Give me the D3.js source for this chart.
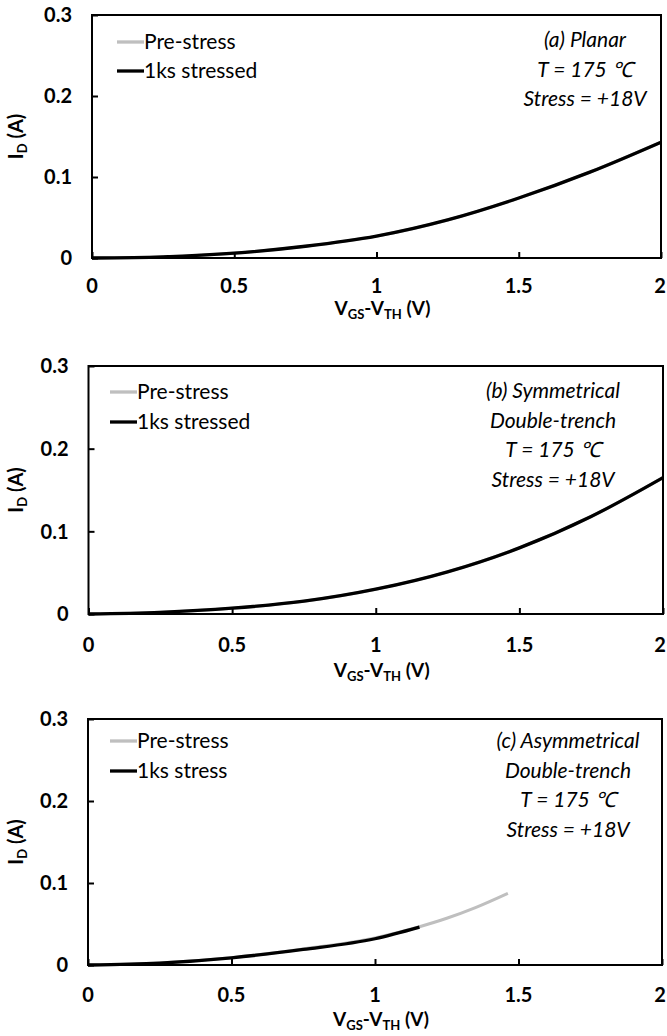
<!DOCTYPE html>
<html>
<head>
<meta charset="utf-8">
<script src="https://cdn.jsdelivr.net/npm/d3@7"></script>
<style>
  html, body { margin: 0; padding: 0; background: #fff; }
  svg { display: block; }
  text { font-family: Lato, "Open Sans", sans-serif; fill: #000; }
</style>
</head>
<body>
<svg id="chart" width="667" height="1036"></svg>
<script>
// ---------- data ----------
const xTickValues = [0, 0.5, 1, 1.5, 2];
const xTickLabels = ["0", "0.5", "1", "1.5", "2"];
const yTickValues = [0, 0.1, 0.2, 0.3];
const yTickLabels = ["0", "0.1", "0.2", "0.3"];

// (a) Planar
const vgsA = [0, 0.25, 0.5, 0.75, 1, 1.25, 1.5, 1.75, 2];
const idPreA = [0, 0.0015, 0.006, 0.0145, 0.027, 0.047, 0.074, 0.106, 0.143];
const idPostA = [0, 0.0015, 0.006, 0.0145, 0.027, 0.047, 0.074, 0.106, 0.143];

// (b) Symmetrical double-trench
const vgsB = [0, 0.25, 0.5, 0.75, 1, 1.25, 1.5, 1.75, 2];
const idPreB = [0, 0.002, 0.007, 0.0155, 0.030, 0.051, 0.080, 0.118, 0.165];
const idPostB = [0, 0.002, 0.007, 0.0155, 0.030, 0.051, 0.080, 0.118, 0.165];

// (c) Asymmetrical double-trench
const vgsCPre = [0, 0.25, 0.5, 0.75, 1, 1.155, 1.25, 1.35, 1.463];
const idCPre = [0, 0.0025, 0.009, 0.0195, 0.033, 0.0467, 0.057, 0.070, 0.0874];
const vgsCPost = [0, 0.25, 0.5, 0.75, 1, 1.155];
const idCPost = [0, 0.0024, 0.0088, 0.019, 0.032, 0.0462];

const legendA = ["Pre-stress", "1ks stressed"];
const legendB = ["Pre-stress", "1ks stressed"];
const legendC = ["Pre-stress", "1ks stress"];

const noteA = ["(a) Planar", "T = 175 \u2103", "Stress = +18V"];
const noteB = ["(b) Symmetrical", "Double-trench", "T = 175 \u2103", "Stress = +18V"];
const noteC = ["(c) Asymmetrical", "Double-trench", "T = 175 \u2103", "Stress = +18V"];

// ---------- layout ----------
const panels = [
  { box: {l: 92, r: 661, t: 15, b: 258}, tickDy: 35, titleDy: 57,
    pre: {x: vgsA, y: idPreA}, post: {x: vgsA, y: idPostA},
    legend: legendA, legX: 117, legY: [42, 71],
    note: noteA, noteX: 585, noteY: 47 },
  { box: {l: 88.5, r: 663, t: 366, b: 614}, tickDy: 38, titleDy: 63,
    pre: {x: vgsB, y: idPreB}, post: {x: vgsB, y: idPostB},
    legend: legendB, legX: 110, legY: [392, 422],
    note: noteB, noteX: 553, noteY: 398 },
  { box: {l: 88, r: 662, t: 719, b: 965}, tickDy: 37, titleDy: 61,
    pre: {x: vgsCPre, y: idCPre}, post: {x: vgsCPost, y: idCPost},
    legend: legendC, legX: 110, legY: [741, 771],
    note: noteC, noteX: 568, noteY: 748 }
];

const svg = d3.select("#chart");
const preColor = "#bfbfbf";
const postColor = "#000";

panels.forEach(p => {
  const {l, r, t, b} = p.box;
  const x = d3.scaleLinear().domain([0, 2]).range([l, r]);
  const y = d3.scaleLinear().domain([0, 0.3]).range([b, t]);
  const g = svg.append("g");

  // curves
  const line = d3.line().x(d => x(d[0])).y(d => y(d[1])).curve(d3.curveMonotoneX);
  const preData = p.pre.x.map((v, i) => [v, p.pre.y[i]]);
  const postData = p.post.x.map((v, i) => [v, p.post.y[i]]);
  g.append("path").datum(preData).attr("d", line)
    .attr("fill", "none").attr("stroke", preColor).attr("stroke-width", 3);
  g.append("path").datum(postData).attr("d", line)
    .attr("fill", "none").attr("stroke", postColor).attr("stroke-width", 3.3);

  // axes (ticks inward)
  const xAxis = d3.axisBottom(x).tickValues(xTickValues).tickSize(-6).tickFormat("");
  const yAxis = d3.axisLeft(y).tickValues(yTickValues).tickSize(-6).tickFormat("");
  const gx = g.append("g").attr("transform", `translate(0,${b})`).call(xAxis);
  const gy = g.append("g").attr("transform", `translate(${l},0)`).call(yAxis);
  [gx, gy].forEach(a => {
    a.select(".domain").remove();
    a.selectAll(".tick line").attr("stroke", "#000").attr("stroke-width", 2);
  });

  // frame
  g.append("rect").attr("x", l).attr("y", t).attr("width", r - l).attr("height", b - t)
    .attr("fill", "none").attr("stroke", "#000").attr("stroke-width", 2);

  // tick labels
  g.selectAll(".xl").data(xTickValues).enter().append("text")
    .attr("x", d => Math.min(x(d), 660)).attr("y", b + p.tickDy)
    .attr("text-anchor", "middle").attr("font-size", 20).attr("font-weight", "bold")
    .text((d, i) => xTickLabels[i]);
  g.selectAll(".yl").data(yTickValues).enter().append("text")
    .attr("x", l - 20).attr("y", d => y(d)).attr("dy", "0.36em")
    .attr("text-anchor", "end").attr("font-size", 20).attr("font-weight", "bold")
    .text((d, i) => yTickLabels[i]);

  // x title
  const xt = g.append("text").attr("x", (l + r) / 2 + 6).attr("y", b + p.titleDy)
    .attr("text-anchor", "middle").attr("font-size", 19).attr("font-weight", "bold");
  xt.append("tspan").text("V");
  xt.append("tspan").attr("font-size", 13).attr("dy", 4).text("GS");
  xt.append("tspan").attr("dy", -4).text("-V");
  xt.append("tspan").attr("font-size", 13).attr("dy", 4).text("TH");
  xt.append("tspan").attr("dy", -4).text(" (V)");

  // y title
  const yt = g.append("text")
    .attr("transform", `translate(23,${(t + b) / 2}) rotate(-90)`)
    .attr("text-anchor", "middle").attr("font-size", 20).attr("font-weight", "bold");
  yt.append("tspan").text("I");
  yt.append("tspan").attr("font-size", 13).attr("dy", 4).text("D");
  yt.append("tspan").attr("dy", -4).text(" (A)");

  // legend
  [preColor, postColor].forEach((c, i) => {
    g.append("line").attr("x1", p.legX).attr("x2", p.legX + 27)
      .attr("y1", p.legY[i]).attr("y2", p.legY[i])
      .attr("stroke", c).attr("stroke-width", 3.3);
    g.append("text").attr("x", p.legX + 27).attr("y", p.legY[i]).attr("dy", "0.35em")
      .attr("font-size", 21).text(p.legend[i]);
  });

  // annotation
  p.note.forEach((s, i) => {
    g.append("text").attr("x", p.noteX).attr("y", p.noteY + i * 29.5)
      .attr("text-anchor", "middle").attr("font-size", 21).attr("font-style", "italic")
      .text(s);
  });
});
</script>
</body>
</html>
